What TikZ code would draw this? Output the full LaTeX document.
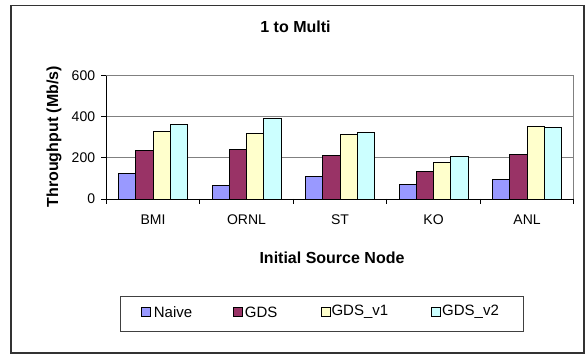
\documentclass[tikz,border=0pt]{standalone}
\usepackage{fontspec}
\setmainfont{Liberation Sans}
\usepackage{xcolor}
\definecolor{naivecol}{HTML}{9999FF}
\definecolor{gdscol}{HTML}{993366}
\definecolor{vonecol}{HTML}{FFFFCC}
\definecolor{vtwocol}{HTML}{CCFFFF}

\begin{document}
\begin{tikzpicture}[x=1pt, y=1pt,
  % Node Styles
  titlenode/.style={font=\fontsize{16}{18}\selectfont\bfseries, inner sep=0pt},
  ticklabel/.style={font=\fontsize{14}{16}\selectfont, inner sep=0pt},
  legendtext/.style={font=\fontsize{15}{17}\selectfont, inner sep=0pt, anchor=west},
  keybox/.style={draw=black, line width=0.8pt, minimum size=9pt, inner sep=0pt},
  % Bar Styles
  barbox/.style={draw=black, line width=0.9pt},
  gridline/.style={draw=black!50, line width=0.8pt},
  axisline/.style={draw=black, line width=0.8pt}
]

\useasboundingbox (0,0) rectangle (588,356);
\draw[line width=1.2pt, black!80] (11,350.5) rectangle (584,3);

% Chart title and axis titles
\node[titlenode] (title) at (295.5,329.5) {1 to Multi};
\node[titlenode, rotate=90] (ytitle) at (54,219.3) {Throughput (Mb/s)};
\node[titlenode] (xtitle) at (332,98.5) {Initial Source Node};

% Plot area
\begin{scope}[shift={(106.3,157)}, y=0.2055pt]
\draw[gridline] (0,200) -- (467.5,200);
\draw[gridline] (0,400) -- (467.5,400);
\draw[gridline] (0,600) -- (467.5,600) -- (467.5,0);

% BMI
\draw[barbox, fill=naivecol] (12.2,0) rectangle (29.5,125);
\draw[barbox, fill=gdscol] (29.5,0) rectangle (46.8,235);
\draw[barbox, fill=vonecol] (46.8,0) rectangle (64.1,331);
\draw[barbox, fill=vtwocol] (64.1,0) rectangle (81.4,363);
% ORNL
\draw[barbox, fill=naivecol] (105.7,0) rectangle (123.0,68);
\draw[barbox, fill=gdscol] (123.0,0) rectangle (140.3,240);
\draw[barbox, fill=vonecol] (140.3,0) rectangle (157.6,321);
\draw[barbox, fill=vtwocol] (157.6,0) rectangle (174.9,393);
% ST
\draw[barbox, fill=naivecol] (199.2,0) rectangle (216.5,112);
\draw[barbox, fill=gdscol] (216.5,0) rectangle (233.8,214);
\draw[barbox, fill=vonecol] (233.8,0) rectangle (251.1,315);
\draw[barbox, fill=vtwocol] (251.1,0) rectangle (268.4,323);
% KO
\draw[barbox, fill=naivecol] (292.7,0) rectangle (310.0,73);
\draw[barbox, fill=gdscol] (310.0,0) rectangle (327.3,135);
\draw[barbox, fill=vonecol] (327.3,0) rectangle (344.6,179);
\draw[barbox, fill=vtwocol] (344.6,0) rectangle (361.9,209);
% ANL
\draw[barbox, fill=naivecol] (386.2,0) rectangle (403.5,96);
\draw[barbox, fill=gdscol] (403.5,0) rectangle (420.8,217);
\draw[barbox, fill=vonecol] (420.8,0) rectangle (438.1,352);
\draw[barbox, fill=vtwocol] (438.1,0) rectangle (455.4,349);

\draw[axisline] (0,600) -- (0,0) -- (467.5,0);
\draw[axisline] (0,0) -- ++(-5pt,0pt);
\draw[axisline] (0,200) -- ++(-5pt,0pt);
\draw[axisline] (0,400) -- ++(-5pt,0pt);
\draw[axisline] (0,600) -- ++(-5pt,0pt);
\draw[axisline] (0,0) -- ++(0pt,-5pt);
\draw[axisline] (93.5,0) -- ++(0pt,-5pt);
\draw[axisline] (187,0) -- ++(0pt,-5pt);
\draw[axisline] (280.5,0) -- ++(0pt,-5pt);
\draw[axisline] (374,0) -- ++(0pt,-5pt);
\draw[axisline] (467.5,0) -- ++(0pt,-5pt);

\node[ticklabel, anchor=east] (y0) at (-11,0) {0};
\node[ticklabel, anchor=east] (y200) at (-11,200) {200};
\node[ticklabel, anchor=east] (y400) at (-11,400) {400};
\node[ticklabel, anchor=east] (y600) at (-11,600) {600};
\end{scope}

% Category labels
\node[ticklabel] (bmi) at (153.05,136.8) {BMI};
\node[ticklabel] (ornl) at (246.55,136.8) {ORNL};
\node[ticklabel] (st) at (340.05,136.8) {ST};
\node[ticklabel] (ko) at (433.55,136.8) {KO};
\node[ticklabel] (anl) at (527.05,136.8) {ANL};

% Legend
\draw[line width=0.8pt, black!75] (120,60) rectangle (523,25);
\node[keybox, fill=naivecol] (knaive) at (145.8,44) {};
\node[legendtext] (lnaive) at (153.7,44) {Naive};
\node[keybox, fill=gdscol] (kgds) at (238,44) {};
\node[legendtext] (lgds) at (244.7,44) {GDS};
\node[keybox, fill=vonecol] (kvone) at (325.5,44) {};
\node[legendtext] (lvone) at (331.3,44) {GDS\_v1};
\node[keybox, fill=vtwocol] (kvtwo) at (436.2,44) {};
\node[legendtext] (lvtwo) at (442,44) {GDS\_v2};

\end{tikzpicture}
\end{document}
